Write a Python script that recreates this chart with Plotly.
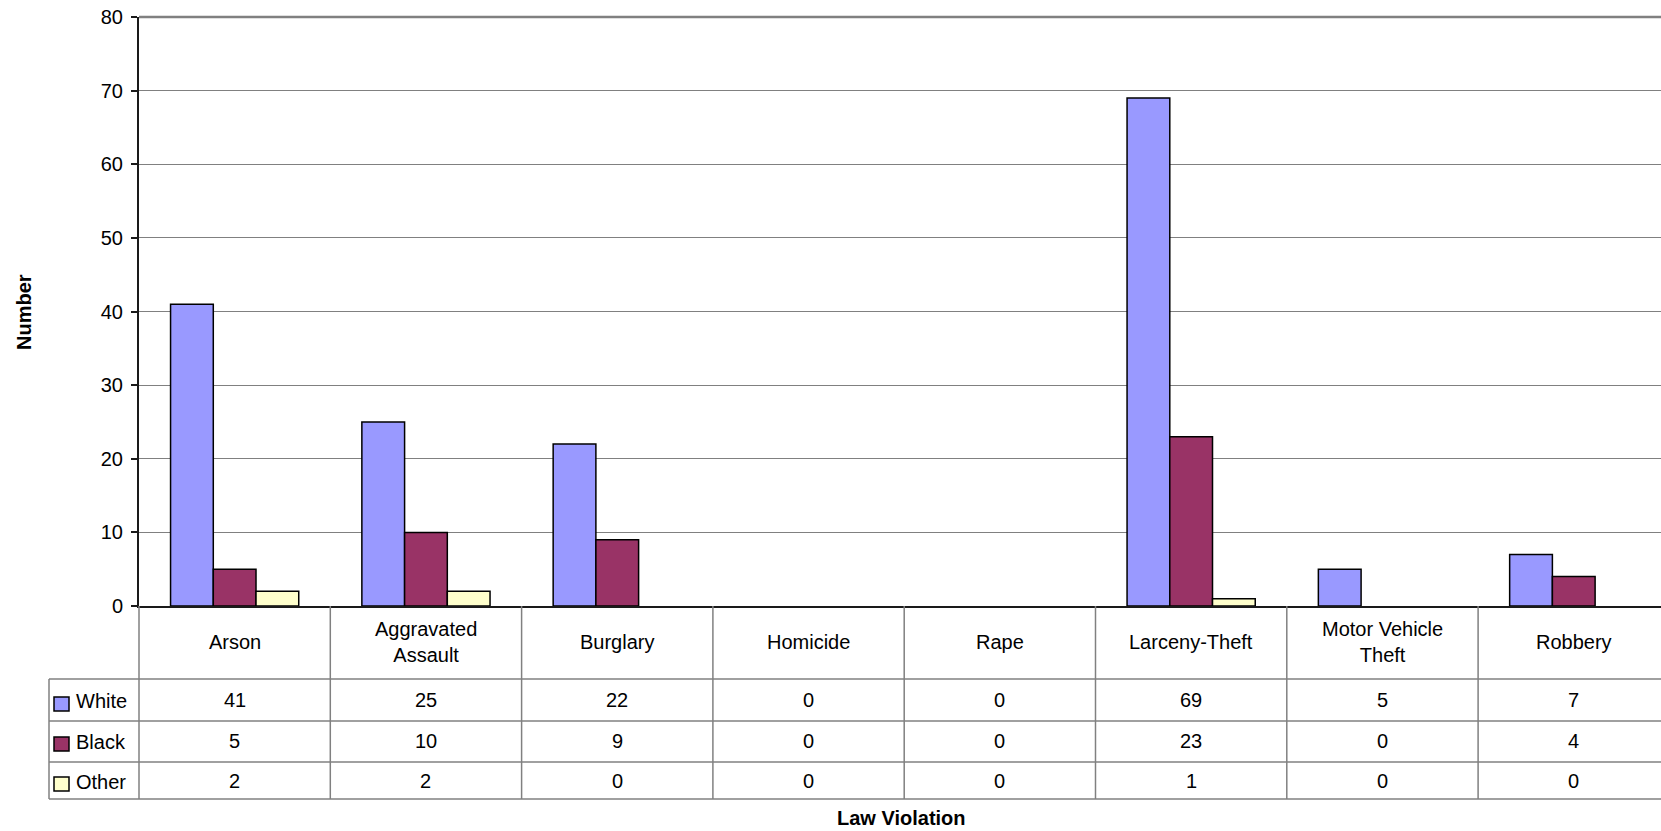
import plotly.graph_objects as go

categories = ["Arson", "Aggravated<br>Assault", "Burglary", "Homicide", "Rape",
              "Larceny-Theft", "Motor Vehicle<br>Theft", "Robbery"]
series_names = ["White", "Black", "Other"]
white = [41, 25, 22, 0, 0, 69, 5, 7]
black = [5, 10, 9, 0, 0, 23, 0, 4]
other = [2, 2, 0, 0, 0, 1, 0, 0]
series_values = [white, black, other]
colors = ["#9999FF", "#993366", "#FFFFCC"]
y_ticks = [0, 10, 20, 30, 40, 50, 60, 70, 80]

W, H = 1661, 831
L, T = 139, 17
B_PIX = 606
PW, PH = W - L, B_PIX - T
FONT = "Liberation Sans, Arial, sans-serif"
FS = 20

def px(xp):
    return (xp - L) / PW

def py(yp):
    return (B_PIX - yp) / PH

xs = list(range(len(categories)))
fig = go.Figure()
for name, vals, col in zip(series_names, series_values, colors):
    fig.add_trace(go.Bar(x=xs, y=[v if v else None for v in vals], name=name,
                         marker=dict(color=col, line=dict(color="#000000", width=1.5)),
                         hoverinfo="y+name"))

cat_w = 191.3
xmax = -0.5 + PW / cat_w

fig.update_layout(
    width=W, height=H,
    margin=dict(l=L, r=0, t=T, b=H - B_PIX),
    plot_bgcolor="white", paper_bgcolor="white",
    barmode="group", bargap=0.33, bargroupgap=0,
    showlegend=False,
    font=dict(family=FONT, size=FS, color="#000000"),
)
fig.update_xaxes(range=[-0.5, xmax], showticklabels=False, showgrid=False, zeroline=False,
                 showline=True, linecolor="#1a1a1a", linewidth=2, ticks="", fixedrange=True)
fig.update_yaxes(range=[0, 80], tickvals=y_ticks, showgrid=True, gridcolor="#808080", gridwidth=1,
                 zeroline=False, showline=True, linecolor="#1a1a1a", linewidth=2,
                 ticks="outside", ticklen=6, tickcolor="#1a1a1a", tickwidth=1.5,
                 ticklabelstandoff=4, tickfont=dict(size=FS), fixedrange=True)

shapes = []
grid = "#808080"
shapes.append(dict(type="line", xref="paper", yref="paper", x0=0, x1=1, y0=1, y1=1,
                   line=dict(color=grid, width=2.5)))
row_lines = [679, 721, 762, 799]
for yp in row_lines:
    shapes.append(dict(type="line", xref="paper", yref="paper", x0=px(49), x1=1, y0=py(yp), y1=py(yp),
                       line=dict(color=grid, width=1.5)))
shapes.append(dict(type="line", xref="paper", yref="paper", x0=px(49), x1=px(49), y0=py(679), y1=py(799),
                   line=dict(color=grid, width=1.5)))
shapes.append(dict(type="line", xref="paper", yref="paper", x0=0, x1=0, y0=0, y1=py(799),
                   line=dict(color=grid, width=1.5)))
for i in range(1, len(categories)):
    shapes.append(dict(type="line", xref="x", yref="paper", x0=i - 0.5, x1=i - 0.5, y0=0, y1=py(799),
                       line=dict(color=grid, width=1.5)))

annotations = []
for i, c in enumerate(categories):
    annotations.append(dict(x=i, y=py(642), xref="x", yref="paper", text=c, showarrow=False,
                            font=dict(size=FS, family=FONT), align="center",
                            xanchor="center", yanchor="middle"))
row_centers = [700, 741, 780.5]
sq_centers = [704, 744, 784]
for r, (name, vals, col) in enumerate(zip(series_names, series_values, colors)):
    sc = sq_centers[r]
    shapes.append(dict(type="rect", xref="paper", yref="paper", x0=px(54), x1=px(69),
                       y0=py(sc + 7), y1=py(sc - 7), fillcolor=col, line=dict(color="#000000", width=1.5)))
    annotations.append(dict(x=px(74), y=py(row_centers[r] + 1), xref="paper", yref="paper", text=name,
                            showarrow=False, xanchor="left", yanchor="middle", font=dict(size=FS, family=FONT)))
    for i, v in enumerate(vals):
        annotations.append(dict(x=i, y=py(row_centers[r]), xref="x", yref="paper", text=str(v),
                                showarrow=False, xanchor="center", yanchor="middle",
                                font=dict(size=FS, family=FONT)))

annotations.append(dict(x=px(24), y=py(312), xref="paper", yref="paper", text="<b>Number</b>",
                        textangle=-90, showarrow=False, xanchor="center", yanchor="middle",
                        font=dict(size=FS, family=FONT)))
annotations.append(dict(x=px(902), y=py(818), xref="paper", yref="paper", text="<b>Law Violation</b>",
                        showarrow=False, xanchor="center", yanchor="middle",
                        font=dict(size=FS, family=FONT)))

fig.update_layout(shapes=shapes, annotations=annotations)
fig.write_html("out.html", config={"displayModeBar": False},
               post_script="document.body.style.margin='0';document.body.style.overflow='hidden';")
